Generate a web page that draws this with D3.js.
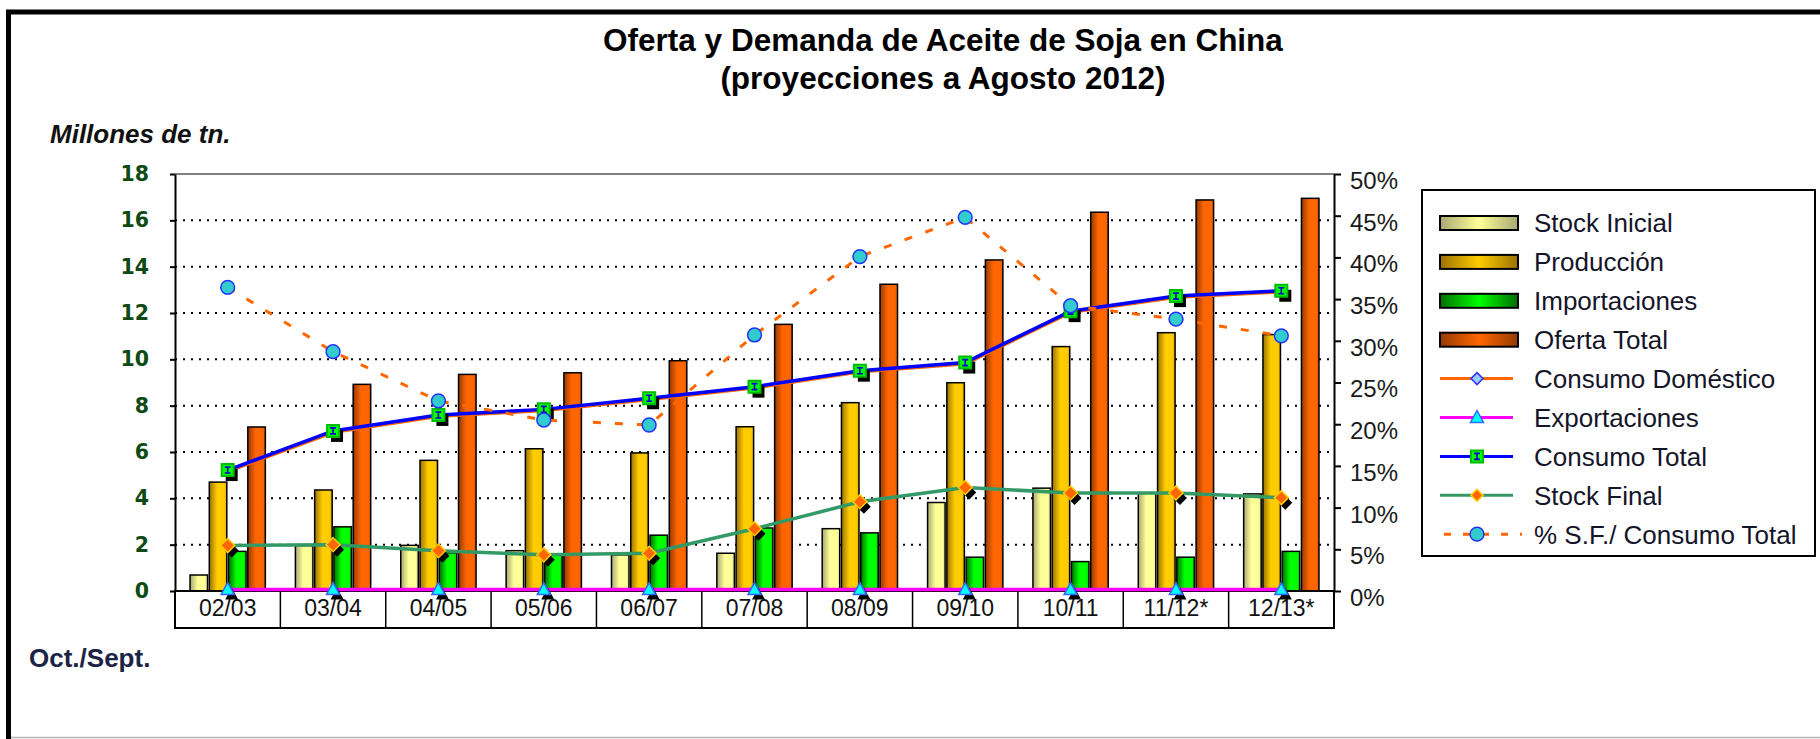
<!DOCTYPE html>
<html>
<head>
<meta charset="utf-8">
<script src="https://cdnjs.cloudflare.com/ajax/libs/d3/7.8.5/d3.min.js"></script>
<style>
  body { margin: 0; background: #fff; }
  svg { display: block; font-family: Arial, 'Liberation Sans', sans-serif; }
</style>
</head>
<body>
<div id="chart"></div>
<script>
var categories = ['02/03', '03/04', '04/05', '05/06', '06/07', '07/08', '08/09', '09/10', '10/11', '11/12*', '12/13*'];

// millones de tn.
var stockInicial = [0.69, 1.96, 1.97, 1.74, 1.56, 1.63, 2.69, 3.82, 4.44, 4.22, 4.19];
var produccion = [4.70, 4.36, 5.64, 6.14, 5.96, 7.09, 8.13, 8.99, 10.55, 11.15, 11.07];
var importaciones = [1.71, 2.77, 1.65, 1.56, 2.41, 2.72, 2.51, 1.46, 1.27, 1.46, 1.71];
var ofertaTotal = [7.08, 8.92, 9.35, 9.42, 9.94, 11.51, 13.24, 14.29, 16.35, 16.88, 16.95];
var consumoDomestico = [5.15, 6.84, 7.53, 7.78, 8.26, 8.76, 9.45, 9.80, 12.02, 12.67, 12.90];
var exportaciones = [0.07, 0.07, 0.07, 0.06, 0.06, 0.06, 0.06, 0.06, 0.06, 0.06, 0.06];
var consumoTotal = [5.22, 6.91, 7.60, 7.84, 8.32, 8.82, 9.51, 9.86, 12.08, 12.73, 12.96];
var stockFinal = [1.96, 2.00, 1.74, 1.56, 1.63, 2.69, 3.85, 4.47, 4.23, 4.23, 4.03];

// % stock final / consumo total (eje derecho)
var pctStockConsumo = [36.4, 28.7, 22.8, 20.5, 19.9, 30.7, 40.1, 44.8, 34.2, 32.6, 30.6];

var leftTicks = [0, 2, 4, 6, 8, 10, 12, 14, 16, 18];
var rightTicks = [0, 5, 10, 15, 20, 25, 30, 35, 40, 45, 50];

var W = 1820,
    H = 739,
    PLOT_LEFT = 175,
    PLOT_RIGHT = 1334,
    PLOT_TOP = 174,
    PLOT_BOTTOM = 591,
    CAT_BOTTOM = 628;

var barSeries = [
  { label: 'Stock Inicial', values: stockInicial, dark: '#a8a874', light: '#ffff99' },
  { label: 'Producción', values: produccion, dark: '#9a7200', light: '#ffcc00' },
  { label: 'Importaciones', values: importaciones, dark: '#006e00', light: '#00ff00' },
  { label: 'Oferta Total', values: ofertaTotal, dark: '#953a00', light: '#ff6600' }
];

var lineSeries = [
  { label: 'Consumo Doméstico', values: consumoDomestico, axis: 'left', color: '#ff6600', width: 3,
    marker: 'diamond', mSize: 5, mFill: '#99ccff', mStroke: '#3333ff', shadow: false },
  { label: 'Exportaciones', values: exportaciones, axis: 'left', color: '#ff00ff', width: 3.5,
    marker: 'triangle', mFill: '#00ffff', mStroke: '#3366ff', shadow: true },
  { label: 'Consumo Total', values: consumoTotal, axis: 'left', color: '#0000ff', width: 3.5,
    marker: 'square', mFill: '#00ff00', mStroke: '#00bb00', shadow: true },
  { label: 'Stock Final', values: stockFinal, axis: 'left', color: '#339966', width: 3.5,
    marker: 'diamond', mSize: 7, mFill: '#ff6600', mStroke: '#ffcc00', shadow: true },
  { label: '% S.F./ Consumo Total', values: pctStockConsumo, axis: 'right', color: '#ff6600', width: 3,
    dash: '8,14', marker: 'circle', mFill: '#33cccc', mStroke: '#2233ff', shadow: false }
];

var svg = d3.select('#chart')
  .append('svg')
  .attr('width', W)
  .attr('height', H);

var defs = svg.append('defs');

barSeries.forEach(function (s, i) {
  var g = defs.append('linearGradient').attr('id', 'bar-' + i).attr('x1', 0).attr('x2', 1).attr('y1', 0).attr('y2', 0);
  g.append('stop').attr('offset', '0%').attr('stop-color', s.dark);
  g.append('stop').attr('offset', '45%').attr('stop-color', s.light);
  g.append('stop').attr('offset', '85%').attr('stop-color', s.light);
  g.append('stop').attr('offset', '100%').attr('stop-color', d3.interpolateRgb(s.light, s.dark)(0.4));

  var lg = defs.append('linearGradient').attr('id', 'leg-' + i).attr('x1', 0).attr('x2', 1).attr('y1', 0).attr('y2', 0);
  lg.append('stop').attr('offset', '0%').attr('stop-color', s.dark);
  lg.append('stop').attr('offset', '50%').attr('stop-color', s.light);
  lg.append('stop').attr('offset', '100%').attr('stop-color', s.dark);
});

var x = d3.scaleBand().domain(categories).range([PLOT_LEFT, PLOT_RIGHT]);
var xBar = d3.scaleBand().domain(d3.range(barSeries.length)).range([0, x.bandwidth()])
  .paddingInner(0.09).paddingOuter(0.78);
var y = d3.scaleLinear().domain([0, 18]).range([PLOT_BOTTOM, PLOT_TOP]);
var yPct = d3.scaleLinear().domain([0, 50]).range([PLOT_BOTTOM, PLOT_TOP]);

var cx = function (i) { return x(categories[i]) + x.bandwidth() / 2; };

// outer frame
svg.append('rect')
  .attr('x', 8.5).attr('y', 12)
  .attr('width', W + 50).attr('height', H + 50)
  .attr('fill', 'none').attr('stroke', '#000').attr('stroke-width', 5);
svg.append('line')
  .attr('x1', 11).attr('x2', W).attr('y1', H - 1.5).attr('y2', H - 1.5)
  .attr('stroke', '#b4b4b4').attr('stroke-width', 1.5);

// titles
var title = svg.append('text')
  .attr('x', 943)
  .attr('text-anchor', 'middle')
  .style('font-size', '31.5px')
  .style('font-weight', 'bold')
  .attr('fill', '#000');
title.append('tspan').attr('x', 943).attr('y', 51).text('Oferta y Demanda de Aceite de Soja en China');
title.append('tspan').attr('x', 943).attr('y', 89).text('(proyecciones a Agosto 2012)');

svg.append('text')
  .attr('x', 50).attr('y', 143)
  .style('font-size', '26px').style('font-weight', 'bold').style('font-style', 'italic')
  .attr('fill', '#111')
  .text('Millones de tn.');

svg.append('text')
  .attr('x', 29).attr('y', 667)
  .style('font-size', '26px').style('font-weight', 'bold')
  .attr('fill', '#1b2444')
  .text('Oct./Sept.');

// grid
svg.append('g')
  .selectAll('line')
  .data(leftTicks.filter(function (d) { return d > 0 && d < 18; }))
  .enter()
  .append('line')
  .attr('x1', PLOT_LEFT).attr('x2', PLOT_RIGHT)
  .attr('y1', function (d) { return y(d); })
  .attr('y2', function (d) { return y(d); })
  .attr('stroke', '#000')
  .attr('stroke-width', 2)
  .attr('stroke-dasharray', '2,6');

svg.append('line')
  .attr('x1', PLOT_LEFT).attr('x2', PLOT_RIGHT)
  .attr('y1', PLOT_TOP).attr('y2', PLOT_TOP)
  .attr('stroke', '#808080').attr('stroke-width', 2);

// bars
barSeries.forEach(function (s, i) {
  svg.append('g')
    .selectAll('rect')
    .data(s.values)
    .enter()
    .append('rect')
    .attr('x', function (d, j) { return x(categories[j]) + xBar(i); })
    .attr('y', function (d) { return y(d); })
    .attr('width', xBar.bandwidth())
    .attr('height', function (d) { return y(0) - y(d); })
    .attr('fill', 'url(#bar-' + i + ')')
    .attr('stroke', '#000')
    .attr('stroke-width', 1.5);
});

// category box
var catG = svg.append('g');
catG.append('rect')
  .attr('x', PLOT_LEFT).attr('y', PLOT_BOTTOM)
  .attr('width', PLOT_RIGHT - PLOT_LEFT).attr('height', CAT_BOTTOM - PLOT_BOTTOM)
  .attr('fill', '#fff').attr('stroke', '#000').attr('stroke-width', 2);
catG.selectAll('line.sep')
  .data(categories.slice(1))
  .enter()
  .append('line')
  .attr('class', 'sep')
  .attr('x1', function (d) { return x(d); })
  .attr('x2', function (d) { return x(d); })
  .attr('y1', PLOT_BOTTOM).attr('y2', CAT_BOTTOM)
  .attr('stroke', '#000').attr('stroke-width', 1.5);
catG.selectAll('text')
  .data(categories)
  .enter()
  .append('text')
  .attr('x', function (d) { return x(d) + x.bandwidth() / 2; })
  .attr('y', 616)
  .attr('text-anchor', 'middle')
  .style('font-size', '23px')
  .attr('fill', '#111')
  .text(function (d) { return d; });

// axes
var leftAxis = svg.append('g')
  .attr('transform', 'translate(' + PLOT_LEFT + ',0)')
  .call(d3.axisLeft(y).tickValues(leftTicks).tickSize(5).tickSizeOuter(0).tickPadding(21));
leftAxis.select('.domain').attr('stroke', '#000').attr('stroke-width', 2);
leftAxis.selectAll('.tick line').attr('stroke', '#000').attr('stroke-width', 2);
leftAxis.selectAll('.tick text')
  .style('font-family', "'DejaVu Sans', Verdana, sans-serif")
  .style('font-size', '20.5px')
  .style('font-weight', 'bold')
  .attr('fill', '#0e4a14');

var rightAxis = svg.append('g')
  .attr('transform', 'translate(' + PLOT_RIGHT + ',0)')
  .call(d3.axisRight(yPct).tickValues(rightTicks).tickSize(7).tickSizeOuter(0).tickPadding(9)
    .tickFormat(function (d) { return d + '%'; }));
rightAxis.select('.domain').attr('stroke', '#000').attr('stroke-width', 2);
rightAxis.selectAll('.tick line').attr('stroke', '#000').attr('stroke-width', 2);
rightAxis.selectAll('.tick text')
  .attr('dy', '0.6em')
  .style('font-size', '24px')
  .attr('fill', '#1a1a1a');

// markers
var markerPath = function (type, size) {
  if (type === 'square') return 'M-6,-6H6V6H-6Z';
  if (type === 'diamond') return 'M0,' + (-size) + 'L' + size + ',0L0,' + size + 'L' + (-size) + ',0Z';
  if (type === 'triangle') return 'M0,-7L6.5,5H-6.5Z';
  return d3.symbol().type(d3.symbolCircle).size(150)();
};

var drawMarker = function (g, s, px, py) {
  var path = markerPath(s.marker, s.mSize || 7);
  if (s.shadow) {
    g.append('path')
      .attr('d', path)
      .attr('transform', 'translate(' + (px + 4) + ',' + (py + 5) + ')')
      .attr('fill', '#000');
  }
  g.append('path')
    .attr('d', path)
    .attr('transform', 'translate(' + px + ',' + py + ')')
    .attr('fill', s.mFill)
    .attr('stroke', s.mStroke)
    .attr('stroke-width', s.marker === 'square' ? 2 : 1.5);
  if (s.marker === 'square') {
    g.append('path')
      .attr('d', 'M-3,-3H3M0,-3V3M-3,3H3')
      .attr('transform', 'translate(' + px + ',' + py + ')')
      .attr('stroke', '#0000cc')
      .attr('stroke-width', 1.6)
      .attr('fill', 'none');
  }
};

// lines
lineSeries.forEach(function (s) {
  var scale = s.axis === 'right' ? yPct : y;
  var line = d3.line()
    .x(function (d, i) { return cx(i); })
    .y(function (d) { return scale(d); });
  var g = svg.append('g');
  g.append('path')
    .datum(s.values)
    .attr('d', line)
    .attr('fill', 'none')
    .attr('stroke', s.color)
    .attr('stroke-width', s.width)
    .attr('stroke-dasharray', s.dash || null);
  s.values.forEach(function (d, i) {
    drawMarker(g, s, cx(i), scale(d));
  });
});

// legend
var LEG_X = 1422, LEG_Y = 190, LEG_ROW = 38.9;
var legend = svg.append('g');
legend.append('rect')
  .attr('x', LEG_X).attr('y', LEG_Y)
  .attr('width', 393).attr('height', 366)
  .attr('fill', '#fff').attr('stroke', '#000').attr('stroke-width', 2);

var legendItems = barSeries.map(function (s, i) { return { s: s, bar: i }; })
  .concat(lineSeries.map(function (s) { return { s: s, bar: -1 }; }));

legendItems.forEach(function (item, k) {
  var cy = LEG_Y + 33 + k * LEG_ROW;
  var g = legend.append('g');
  if (item.bar >= 0) {
    g.append('rect')
      .attr('x', 1440).attr('y', cy - 7)
      .attr('width', 78).attr('height', 14)
      .attr('fill', 'url(#leg-' + item.bar + ')')
      .attr('stroke', '#000').attr('stroke-width', 2);
  } else {
    var s = item.s;
    if (s.dash) {
      g.append('line')
        .attr('x1', 1444).attr('x2', 1522).attr('y1', cy).attr('y2', cy)
        .attr('stroke', s.color).attr('stroke-width', 3).attr('stroke-dasharray', '7,12');
    } else {
      g.append('line')
        .attr('x1', 1440).attr('x2', 1513).attr('y1', cy).attr('y2', cy)
        .attr('stroke', s.color).attr('stroke-width', 3);
    }
    drawMarker(g, { marker: s.marker, mSize: 6, mFill: s.mFill, mStroke: s.mStroke, shadow: false }, 1477, cy);
  }
  g.append('text')
    .attr('x', 1534).attr('y', cy)
    .attr('dy', '0.36em')
    .style('font-size', '26px')
    .attr('fill', '#15152a')
    .text(item.s.label);
});
</script>
</body>
</html>
